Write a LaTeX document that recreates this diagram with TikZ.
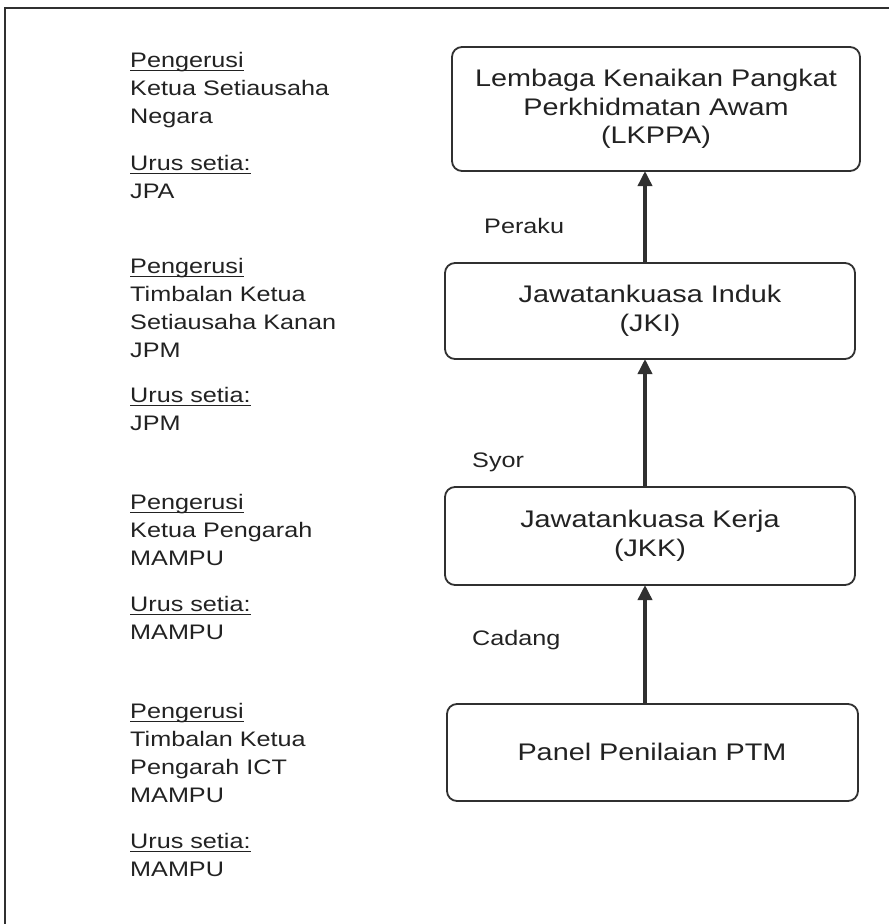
\documentclass[tikz,border=0pt]{standalone}
\usepackage{fontspec}
\setmainfont[FakeStretch=1.2]{Liberation Sans}
\usetikzlibrary{arrows.meta}
\definecolor{ink}{HTML}{222222}
\definecolor{linec}{HTML}{303030}
\newcommand\ulbox[1]{\setbox0\hbox{#1}\rlap{\rule[-4pt]{\wd0}{1.5pt}}\box0}
\tikzset{
  side/.style={anchor=base west, align=left, inner sep=0pt, font=\fontsize{21}{28}\selectfont, text=ink},
  lab/.style={anchor=west, inner sep=0pt, font=\fontsize{21}{28}\selectfont, text=ink},
  boxc/.style={draw=linec, line width=1.8pt, rounded corners=10pt},
  btext/.style={align=center, inner sep=0pt, font=\fontsize{24}{28.5}\selectfont, text=ink},
  up/.style={draw=linec, line width=3.5pt, -{Triangle[length=15pt,width=14pt]}}
}
\begin{document}
\begin{tikzpicture}[x=1pt,y=-1pt]
\useasboundingbox (0,0) rectangle (889,924);
\draw[linec, line width=1.8pt] (5,930) -- (5,8) -- (895,8);
% boxes
\draw[boxc] (452,47) rectangle (860,171);
\node[btext] (b1) at (656,109) {Lembaga Kenaikan Pangkat\\Perkhidmatan Awam\\(LKPPA)};
\draw[boxc] (445,263) rectangle (855,359);
\node[btext] (b2) at (650,311) {Jawatankuasa Induk\\(JKI)};
\draw[boxc] (445,487) rectangle (855,585);
\node[btext] (b3) at (650,536) {Jawatankuasa Kerja\\(JKK)};
\draw[boxc] (447,704) rectangle (858,801);
\node[btext] (b4) at (652,752) {Panel Penilaian PTM};
% connector end points on the box frames
\coordinate (b1s) at (645,171);
\coordinate (b2n) at (645,263);
\coordinate (b2s) at (645,359);
\coordinate (b3n) at (645,487);
\coordinate (b3s) at (645,585);
\coordinate (b4n) at (645,704);
\draw[up] (b2n) -- (b1s);
\draw[up] (b3n) -- (b2s);
\draw[up] (b4n) -- (b3s);
% arrow labels
\node[lab] (l1) at (484,226) {Peraku};
\node[lab] (l2) at (472,462) {Syor};
\node[lab] (l3) at (472,640) {Cadang};
% left column (anchor = baseline of last line)
\node[side] (p1) at (130,123) {\ulbox{Pengerusi}\\Ketua Setiausaha\\Negara};
\node[side] (u1) at (130,198) {\ulbox{Urus setia:}\\JPA};
\node[side] (p2) at (130,357) {\ulbox{Pengerusi}\\Timbalan Ketua\\Setiausaha Kanan\\JPM};
\node[side] (u2) at (130,430) {\ulbox{Urus setia:}\\JPM};
\node[side] (p3) at (130,565) {\ulbox{Pengerusi}\\Ketua Pengarah\\MAMPU};
\node[side] (u3) at (130,639) {\ulbox{Urus setia:}\\MAMPU};
\node[side] (p4) at (130,802) {\ulbox{Pengerusi}\\Timbalan Ketua\\Pengarah ICT\\MAMPU};
\node[side] (u4) at (130,876) {\ulbox{Urus setia:}\\MAMPU};
\end{tikzpicture}
\end{document}
